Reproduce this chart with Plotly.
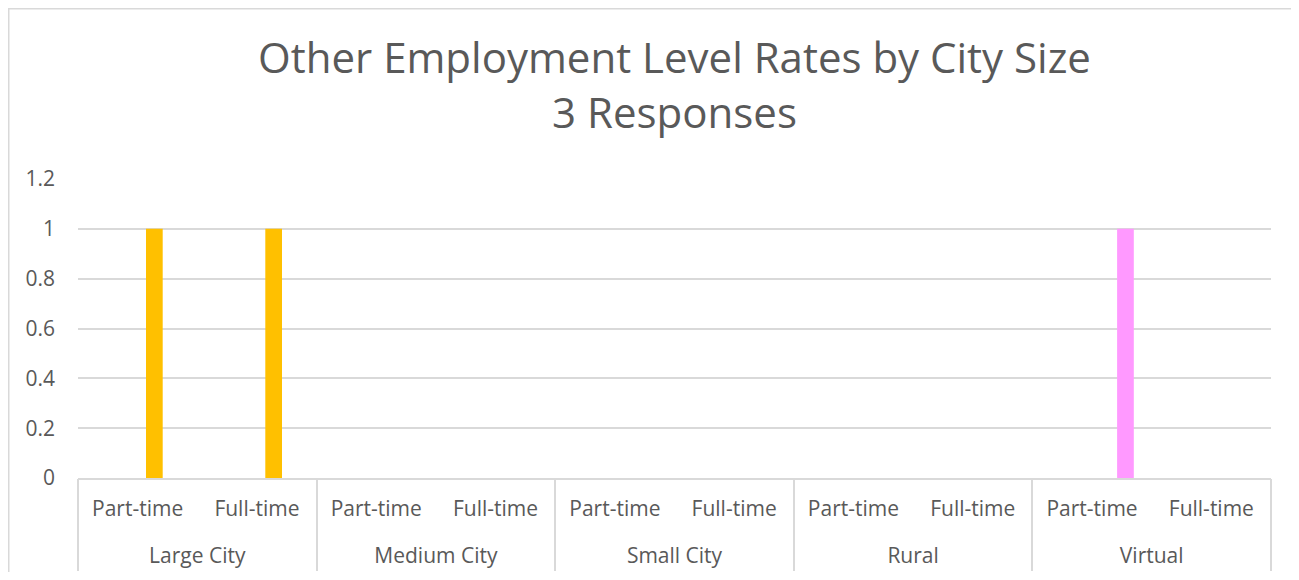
import plotly.graph_objects as go

cities = ["Large City", "Medium City", "Small City", "Rural", "Virtual"]
levels = ["Part-time", "Full-time"]

# Five clustered series (slot order as drawn in the reference); only three bars are non-zero
series_names = ["Medium City", "Small City", "Rural", "Large City", "Virtual"]
series_colors = ["#5B9BD5", "#ED7D31", "#A5A5A5", "#FFC000", "#FF99FF"]
medium_vals = [0, 0, 0, 0, 0, 0, 0, 0, 0, 0]
small_vals = [0, 0, 0, 0, 0, 0, 0, 0, 0, 0]
rural_vals = [0, 0, 0, 0, 0, 0, 0, 0, 0, 0]
large_vals = [1, 1, 0, 0, 0, 0, 0, 0, 0, 0]
virtual_vals = [0, 0, 0, 0, 0, 0, 0, 0, 1, 0]
series_values = [medium_vals, small_vals, rural_vals, large_vals, virtual_vals]

y_ticks = [0, 0.2, 0.4, 0.6, 0.8, 1, 1.2]

# unique category keys, shown with the level text only
cat_keys = [f"{c} / {l}" for c in cities for l in levels]
cat_text = [l for _ in cities for l in levels]
n_cat = len(cat_keys)
n_lev = len(levels)
group_centers = [i * n_lev + (n_lev - 1) / 2 for i in range(len(cities))]

FONT = "Open Sans"
GREY = "#595959"
LINE = "#D9D9D9"

fig = go.Figure()
for name, color, vals in zip(series_names, series_colors, series_values):
    fig.add_trace(go.Bar(
        x=cat_keys, y=vals, name=name,
        marker=dict(color=color, line=dict(width=0)),
        hoverinfo="x+y+name",
    ))

# page body has an 8px margin, so the figure is sized/placed to compensate
W, H = 1283, 564
L, R, T, B = 70, 20, 171, 94
pw = W - L - R
ph = H - T - B

fig.update_layout(
    width=W, height=H,
    margin=dict(l=L, r=R, t=T, b=B, autoexpand=False),
    paper_bgcolor="white", plot_bgcolor="white",
    barmode="group", bargap=0.30, bargroupgap=0,
    showlegend=False,
    font=dict(family=FONT, color=GREY, size=21),
    title=dict(
        text="Other Employment Level Rates by City Size<br>3 Responses",
        x=0.5, xref="paper", xanchor="center",
        y=1 - 65 / H, yref="container", yanchor="middle",
        font=dict(family=FONT, size=42, color=GREY),
    ),
    xaxis=dict(
        type="category", automargin=False,
        categoryorder="array", categoryarray=cat_keys,
        tickvals=cat_keys, ticktext=cat_text,
        range=[-0.5, n_cat - 0.5],
        showline=True, linecolor=LINE, linewidth=1.5,
        showgrid=False, ticks="",
        ticklabelstandoff=11,
        tickfont=dict(family=FONT, size=21, color=GREY),
    ),
    xaxis2=dict(
        overlaying="x", anchor="y", side="bottom", automargin=False,
        type="linear", range=[-0.5, n_cat - 0.5],
        tickvals=group_centers, ticktext=cities,
        showline=False, showgrid=False, zeroline=False, ticks="",
        ticklabelstandoff=63,
        tickfont=dict(family=FONT, size=21, color=GREY),
        minor=dict(tick0=-0.5, dtick=n_lev, ticks="outside", ticklen=92,
                   tickcolor=LINE, tickwidth=1.5, showgrid=False),
    ),
    yaxis=dict(
        range=[0, 1.2], tickvals=y_ticks, automargin=False,
        showgrid=True, gridcolor=LINE, gridwidth=1.5,
        zeroline=False, showline=False, ticks="",
        ticklabelstandoff=22,
        tickfont=dict(family=FONT, size=21, color=GREY),
    ),
    shapes=[dict(
        type="rect", xref="paper", yref="paper",
        x0=(0.75 - L) / pw, x1=1.2,
        y0=-1.0, y1=(H - B - 0.75) / ph,
        line=dict(color=LINE, width=1.5), fillcolor="rgba(0,0,0,0)",
        layer="below",
    )],
)

# invisible helper so the group-label axis is drawn
fig.add_trace(go.Scatter(x=group_centers, y=[0] * len(group_centers), xaxis="x2",
                         mode="markers", marker=dict(opacity=0), hoverinfo="skip",
                         showlegend=False))

fig.write_html("out.html")
